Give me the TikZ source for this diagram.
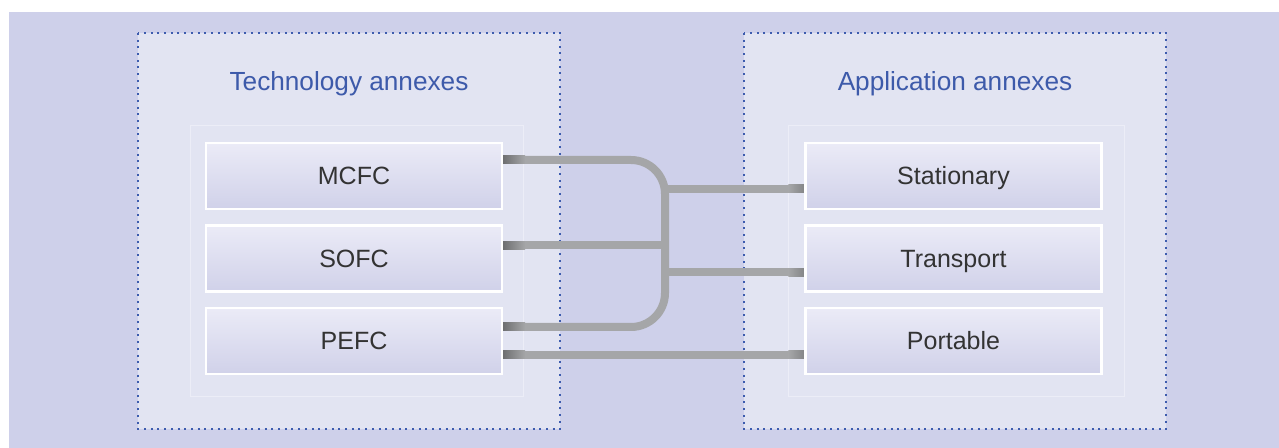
\documentclass[tikz,border=0pt]{standalone}
\usepackage{fontspec}
\setmainfont{Liberation Sans}
\usetikzlibrary{calc}
\definecolor{bgl}{HTML}{CED0EA}
\definecolor{panel}{HTML}{E2E4F2}
\definecolor{dotblue}{HTML}{3D5CAE}
\definecolor{titleblue}{HTML}{3D5AAA}
\definecolor{boxtop}{HTML}{EBEBF7}
\definecolor{boxbot}{HTML}{D0D1E9}
\definecolor{wire}{HTML}{A5A6A8}
\definecolor{wiredark}{HTML}{6E6F71}
\definecolor{txt}{HTML}{333333}
\definecolor{faint}{HTML}{ECEDF7}
\pgfdeclarelayer{bg}
\pgfdeclarelayer{wires}
\pgfsetlayers{bg,wires,main}
\begin{document}
\begin{tikzpicture}[x=0.5pt,y=-0.5pt,
  panelbox/.style={draw=dotblue, fill=panel, line width=0.7pt, dash pattern=on 1pt off 2.35pt},
  innerbox/.style={draw=faint, line width=0.5pt},
  fcbox/.style={draw=white, line width=1.1pt, top color=boxtop, bottom color=boxbot,
    minimum width=148pt, minimum height=33pt, inner sep=0pt,
    text height=9pt, text depth=0pt,
    font=\fontsize{12.5}{15}\selectfont, text=txt},
  title/.style={font=\fontsize{13.1}{16}\selectfont, text=titleblue, anchor=base, inner sep=0pt},
  wireline/.style={draw=wire, line width=4pt},
  wireend/.style={left color=wiredark, right color=wire},
  wireendr/.style={left color=wire, right color=wiredark!60!wire},
]
\useasboundingbox (0,0) rectangle (1279,448);
\begin{pgfonlayer}{bg}
  \fill[white] (0,0) rectangle (1279,448);
  \fill[bgl] (9,12) rectangle (1279,448);
  \draw[panelbox] (138,33) rectangle (560,429);
  \draw[panelbox] (744,33) rectangle (1166,429);
  \draw[innerbox] (190,126) rectangle (523,397);
  \draw[innerbox] (788,126) rectangle (1124,397);
\end{pgfonlayer}

\node[title] (ttech) at (349,91) {Technology annexes};
\node[title] (tapp) at (955,91) {Application annexes};

\node[fcbox] (mcfc) at (354,176) {MCFC};
\node[fcbox] (sofc) at (354,258.5) {SOFC};
\node[fcbox] (pefc) at (354,341) {PEFC};
\node[fcbox] (stat) at (953.5,176) {Stationary};
\node[fcbox] (trans) at (953.5,258.5) {Transport};
\node[fcbox] (port) at (953.5,341) {Portable};

\coordinate (bus) at (665,0);
\coordinate (m1) at ($(mcfc.east)+(0,-16)$);
\coordinate (s1) at ($(sofc.east)+(0,-13)$);
\coordinate (p1) at ($(pefc.east)+(0,-14)$);
\coordinate (p2) at ($(pefc.east)+(0,14)$);
\coordinate (st) at ($(stat.west)+(0,13)$);
\coordinate (tr) at ($(trans.west)+(0,14)$);
\coordinate (po) at ($(port.west)+(0,14)$);

\begin{pgfonlayer}{wires}
  \draw[wireline, rounded corners=17pt] (m1) -- (m1 -| bus) -- (p1 -| bus) -- (p1);
  \draw[wireline] (s1) -- (s1 -| bus);
  \draw[wireline] (st -| bus) -- (st);
  \draw[wireline] (tr -| bus) -- (tr);
  \draw[wireline] (p2) -- (po);
  \foreach \c in {m1,s1,p1,p2}
    \shade[wireend] ($(\c)+(0,-4)$) rectangle ($(\c)+(22,4)$);
  \foreach \c in {st,tr,po}
    \shade[wireendr] ($(\c)+(-16,-4)$) rectangle ($(\c)+(0,4)$);
\end{pgfonlayer}
\end{tikzpicture}
\end{document}
